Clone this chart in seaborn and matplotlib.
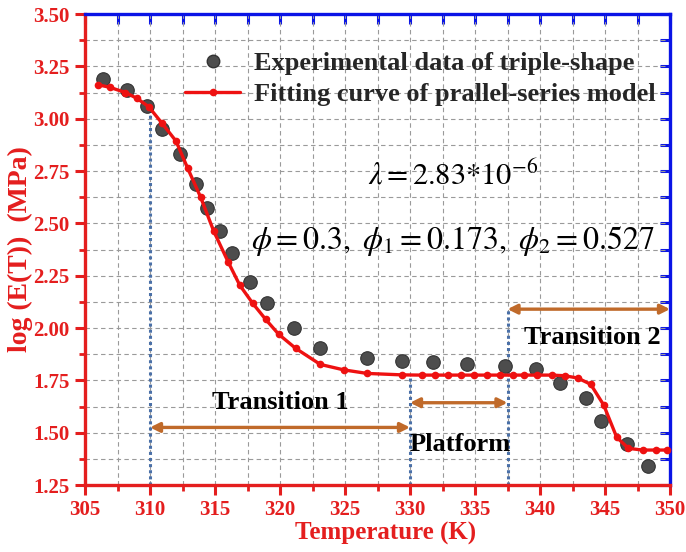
import numpy as np
import pandas as pd
import matplotlib
matplotlib.use("Agg")
import matplotlib.pyplot as plt
import seaborn as sns
from matplotlib.lines import Line2D
from matplotlib.ticker import MultipleLocator

# ---- data ----
exp_T = [306.4, 308.2, 309.8, 310.9, 312.3, 313.5, 314.4, 315.4, 316.3, 317.7,
         319.0, 321.1, 323.1, 326.7, 329.4, 331.8, 334.4, 337.3, 339.7, 341.5,
         343.5, 344.7, 346.7, 348.3]
exp_logE = [3.19, 3.135, 3.06, 2.95, 2.83, 2.69, 2.575, 2.465, 2.36, 2.22,
            2.12, 2.00, 1.905, 1.855, 1.84, 1.836, 1.826, 1.82, 1.803, 1.739,
            1.664, 1.557, 1.446, 1.343]

fit_T = [306.0, 306.9, 308.1, 309.0, 309.9, 310.9, 312.0, 312.9, 313.9, 314.9,
         316.0, 316.9, 317.9, 318.9, 319.9, 321.2, 323.1, 324.9, 326.7, 329.4,
         330.9, 331.9, 332.9, 333.9, 334.9, 335.9, 336.9, 337.9, 338.8, 339.8,
         340.9, 341.9, 342.9, 343.9, 344.9, 345.9, 346.8, 347.9, 348.9, 349.8]
fit_logE = [3.162, 3.15, 3.125, 3.097, 3.057, 2.98, 2.893, 2.763, 2.624, 2.463,
            2.317, 2.205, 2.118, 2.041, 1.970, 1.903, 1.826, 1.80, 1.783, 1.776,
            1.775, 1.775, 1.775, 1.775, 1.775, 1.775, 1.775, 1.775, 1.775, 1.775,
            1.775, 1.772, 1.761, 1.731, 1.632, 1.478, 1.425, 1.417, 1.417, 1.417]

legend_labels = ["Experimental data of triple-shape",
                 "Fitting curve of prallel-series model"]
x_ticks = [305, 310, 315, 320, 325, 330, 335, 340, 345, 350]
y_ticks = [1.25, 1.50, 1.75, 2.00, 2.25, 2.50, 2.75, 3.00, 3.25, 3.50]

# region boundaries / annotations
bound_T = [310.0, 330.0, 337.5]
bound_top = [3.06, 1.775, 2.09]
arrow_spans = [(310.0, 330.0, 1.525), (330.0, 337.5, 1.643), (337.5, 350.0, 2.09)]
region_labels = ["Transition 1", "Platform", "Transition 2"]

RED = "#e41e1e"
LINE_RED = "#ee1111"
BLUE = "#0a14e6"
BROWN = "#c06a2a"
DOT_BLUE = "#4a70a8"
SERIF = ["Liberation Serif", "DejaVu Serif"]

sns.set_style("ticks")
plt.rcParams["font.family"] = SERIF
plt.rcParams["mathtext.fontset"] = "stix"

fig = plt.figure(figsize=(6.86, 5.52), dpi=100)
ax = fig.add_axes([85 / 686, 1 - 485 / 552, 585 / 686, 471 / 552])

df_exp = pd.DataFrame({"T": exp_T, "logE": exp_logE})
df_fit = pd.DataFrame({"T": fit_T, "logE": fit_logE})

ax.set_xlim(305, 350)
ax.set_ylim(1.25, 3.50)

# grid
ax.xaxis.set_major_locator(MultipleLocator(5))
ax.xaxis.set_minor_locator(MultipleLocator(2.5))
ax.yaxis.set_major_locator(MultipleLocator(0.25))
ax.yaxis.set_minor_locator(MultipleLocator(0.125))
ax.grid(True, which="both", color="#9a9a9a", linestyle=(0, (4, 3)), linewidth=0.8)
ax.set_axisbelow(True)

# vertical dotted boundaries
for t, top in zip(bound_T, bound_top):
    ax.plot([t, t], [1.25, top], color=DOT_BLUE, linestyle=(0, (1, 1)), lw=2.2, zorder=2)

# data
sns.lineplot(data=df_fit, x="T", y="logE", ax=ax, color=LINE_RED, lw=2.4,
             marker="o", markersize=5.5, markeredgewidth=0, sort=False,
             estimator=None, zorder=4, clip_on=False, legend=False)
sns.scatterplot(data=df_exp, x="T", y="logE", ax=ax, color="#4d4d4d", s=95,
                edgecolor="#333333", linewidth=0.8, zorder=3, legend=False)

# arrows
for x0, x1, y in arrow_spans:
    ax.annotate("", xy=(x0, y), xytext=(x1, y),
                arrowprops=dict(arrowstyle="<|-|>", color=BROWN, lw=2.4,
                                mutation_scale=14, shrinkA=0, shrinkB=0),
                annotation_clip=False, zorder=5)

ax.text(320.0, 1.646, region_labels[0], fontsize=19, fontweight="bold",
        ha="center", va="center", color="black")
ax.text(330.0, 1.445, region_labels[1], fontsize=19, fontweight="bold",
        ha="left", va="center", color="black")
ax.text(344.0, 1.957, region_labels[2], fontsize=19, fontweight="bold",
        ha="center", va="center", color="black")

ax.text(333.3, 2.725, r"$\lambda = 2.83{*}10^{-6}$", fontsize=22,
        ha="center", va="center", color="black")
ax.text(333.3, 2.415, r"$\phi = 0.3,\ \phi_1 = 0.173,\ \phi_2 = 0.527$",
        fontsize=23, ha="center", va="center", color="black")

# legend
handles = [Line2D([], [], linestyle="none", marker="o", markersize=9,
                  markerfacecolor="#4d4d4d", markeredgecolor="#333333"),
           Line2D([], [], color=LINE_RED, lw=2.4, marker="o", markersize=5.5,
                  markeredgewidth=0)]
leg = ax.legend(handles, legend_labels, loc="upper left",
                bbox_to_anchor=((185 - 85) / 585, (485 - 52) / 471),
                frameon=False, borderpad=0, borderaxespad=0, handlelength=2.1,
                handletextpad=0.5, labelspacing=0.28,
                prop=dict(family=SERIF, weight="bold", size=19))

# spines
for s in ["left", "bottom"]:
    ax.spines[s].set_color(RED)
    ax.spines[s].set_linewidth(2.4)
for s in ["top", "right"]:
    ax.spines[s].set_color(BLUE)
    ax.spines[s].set_linewidth(2.4)

ax.set_xticks(x_ticks)
ax.set_yticks(y_ticks)
ax.set_xticklabels([f"{v:d}" for v in x_ticks])
ax.set_yticklabels([f"{v:.2f}" for v in y_ticks])
ax.tick_params(axis="both", which="major", direction="out", length=7, width=2.2,
               color=RED, labelcolor=RED, labelsize=15, pad=4)
ax.tick_params(axis="both", which="minor", direction="out", length=4, width=2.0,
               color=RED)
for lab in ax.get_xticklabels() + ax.get_yticklabels():
    lab.set_fontweight("bold")

# top/right inward blue ticks
secx = ax.secondary_xaxis("top")
secx.set_xticks(np.arange(305, 350.1, 2.5))
secx.tick_params(direction="in", length=7, width=2.2, color=BLUE, labeltop=False)
secx.spines["top"].set_visible(False)
secy = ax.secondary_yaxis("right")
secy.set_yticks(np.arange(1.25, 3.51, 0.125))
secy.tick_params(direction="in", length=7, width=2.2, color=BLUE, labelright=False)
secy.spines["right"].set_visible(False)

ax.set_xlabel("Temperature (K)", fontsize=18, fontweight="bold", color=RED)
ax.xaxis.set_label_coords((386 - 85) / 585, (485 - 522) / 471)
ax.set_ylabel("log (E(T))  (MPa)", fontsize=20, fontweight="bold", color=RED)
ax.yaxis.set_label_coords((33 - 85) / 585, 0.5)

fig.savefig("out.png", dpi=100)
